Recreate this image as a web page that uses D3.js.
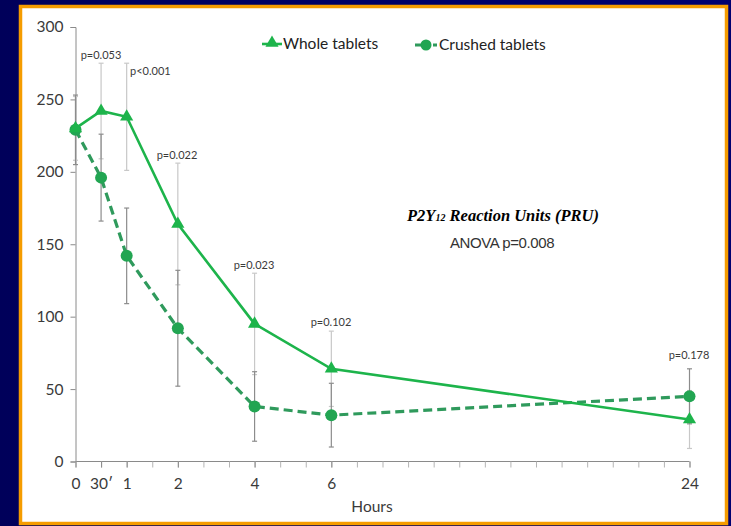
<!DOCTYPE html>
<html>
<head>
<meta charset="utf-8">
<script src="https://cdn.jsdelivr.net/npm/d3@7"></script>
<style>
  html, body { margin: 0; padding: 0; background: #00005c; }
  svg { display: block; }
</style>
</head>
<body>
<svg id="chart" width="731" height="526"></svg>
<script>
// Sampling times (position on the hour axis) and their labels
const timeLabels = ["0", "30\u2032", "1", "2", "4", "6", "24"];
const timePos = [0, 1, 2, 4, 7, 10, 24];

// PRU means and standard deviations
const wholeMean = [230, 242, 238, 164, 95, 64, 29];
const wholeSD = [22, 33, 37, 42, 35, 26, 20];
const crushedMean = [229, 196, 142, 92, 38, 32, 45];
const crushedSD = [24, 30, 33, 40, 24, 22, 19];

// p-values per time point
const pLabels = ["", "p=0.053", "p<0.001", "p=0.022", "p=0.023", "p=0.102", "p=0.178"];

const yTicks = [0, 50, 100, 150, 200, 250, 300];

const svg = d3.select("#chart");
const W = 731, H = 526;

// Background
const defs = svg.append("defs");
const bg = defs.append("linearGradient").attr("id", "bg").attr("x1", 0).attr("x2", 1).attr("y1", 0).attr("y2", 0);
bg.append("stop").attr("offset", "0%").attr("stop-color", "#00005a");
bg.append("stop").attr("offset", "100%").attr("stop-color", "#000070");
svg.append("rect").attr("width", W).attr("height", H).attr("fill", "url(#bg)");

// White panel with orange frame
svg.append("rect")
  .attr("x", 20.5).attr("y", 6.5).attr("width", 706).attr("height", 517)
  .attr("fill", "#ffffff").attr("stroke", "#f59c00").attr("stroke-width", 3.5);

const x = d3.scaleLinear().domain([0, 24]).range([75.5, 689.5]);
const y = d3.scaleLinear().domain([0, 300]).range([461.5, 27]);

const axisColor = "#8a8a8a";
const textColor = "#3a3a3a";
const fontSans = "Lato, 'Open Sans', sans-serif";

// Y axis
const yAxis = svg.append("g").attr("transform", `translate(${x(0)},0)`)
  .call(d3.axisLeft(y).tickValues(yTicks).tickSize(5).tickPadding(7));
yAxis.select(".domain").attr("stroke", axisColor);
yAxis.selectAll(".tick line").attr("stroke", axisColor);
yAxis.selectAll(".tick text").attr("fill", textColor)
  .style("font-family", fontSans).style("font-size", "15.5px");

// X axis: minor ticks each unit, labelled ticks at sampling times
const xAxis = svg.append("g").attr("transform", `translate(0,${y(0)})`)
  .call(d3.axisBottom(x).tickValues(d3.range(0, 25)).tickSize(6).tickFormat(""));
xAxis.select(".domain").attr("stroke", axisColor).attr("d", `M${x(0)},0H${x(24)}`);
xAxis.selectAll(".tick line").attr("stroke", "#b5b5b5");

const xLab = svg.append("g").attr("transform", `translate(0,${y(0)})`)
  .call(d3.axisBottom(x).tickValues(timePos).tickSize(6).tickPadding(10)
    .tickFormat((d, i) => timeLabels[i]));
xLab.select(".domain").remove();
xLab.selectAll(".tick line").attr("stroke", axisColor);
xLab.selectAll(".tick text").attr("fill", textColor)
  .style("font-family", fontSans).style("font-size", "15.5px");

svg.append("text").attr("x", 372).attr("y", 512).attr("text-anchor", "middle")
  .attr("fill", textColor).style("font-family", fontSans).style("font-size", "15.5px")
  .text("Hours");

// Error bars
function errorBars(mean, sd, color) {
  const g = svg.append("g");
  timePos.forEach((t, i) => {
    const lo = y(mean[i] - sd[i]), hi = y(mean[i] + sd[i]), cx = x(t);
    g.append("line").attr("x1", cx).attr("x2", cx).attr("y1", lo).attr("y2", hi)
      .attr("stroke", color).attr("stroke-width", 1.2);
    [lo, hi].forEach(v => g.append("line").attr("x1", cx - 2.5).attr("x2", cx + 2.5)
      .attr("y1", v).attr("y2", v).attr("stroke", color).attr("stroke-width", 1.2));
  });
}
errorBars(wholeMean, wholeSD, "#c8c8c8");
errorBars(crushedMean, crushedSD, "#8c8c8c");

const line = d3.line().x((d, i) => x(timePos[i])).y(d => y(d));

const wholeColor = "#1db44b";
const crushedColor = "#2f9a5c";

// Crushed tablets series (dashed, circles)
svg.append("path").datum(crushedMean).attr("d", line)
  .attr("fill", "none").attr("stroke", crushedColor).attr("stroke-width", 3.2)
  .attr("stroke-dasharray", "9,5");
svg.append("g").selectAll("circle").data(crushedMean).join("circle")
  .attr("cx", (d, i) => x(timePos[i])).attr("cy", d => y(d)).attr("r", 6)
  .attr("fill", "#22a552");

// Whole tablets series (solid, triangles)
svg.append("path").datum(wholeMean).attr("d", line)
  .attr("fill", "none").attr("stroke", wholeColor).attr("stroke-width", 2.6);
const tri = d3.symbol().type(d3.symbolTriangle).size(75);
svg.append("g").selectAll("path").data(wholeMean).join("path")
  .attr("d", tri)
  .attr("transform", (d, i) => `translate(${x(timePos[i])},${y(d)})`)
  .attr("fill", wholeColor);

// p-value annotations above each time point
const pPos = [null, [101, 59], [130, 75, "start"], [177, 159], [254, 269], [331, 326], [689, 359]];
svg.append("g").selectAll("text").data(pLabels.map((t, i) => ({ t, p: pPos[i] })).filter(d => d.t))
  .join("text")
  .attr("x", d => d.p[0]).attr("y", d => d.p[1])
  .attr("text-anchor", d => d.p[2] || "middle")
  .attr("fill", textColor).style("font-family", fontSans).style("font-size", "11px")
  .text(d => d.t);

// Legend
const leg = svg.append("g").style("font-family", fontSans).style("font-size", "15.5px").attr("fill", "#222");
leg.append("line").attr("x1", 262).attr("x2", 282).attr("y1", 44).attr("y2", 44)
  .attr("stroke", wholeColor).attr("stroke-width", 2.6);
leg.append("path").attr("d", tri).attr("transform", "translate(272,43)").attr("fill", wholeColor);
leg.append("text").attr("x", 283).attr("y", 49).text("Whole tablets");

leg.append("line").attr("x1", 415).attr("x2", 437).attr("y1", 45).attr("y2", 45)
  .attr("stroke", crushedColor).attr("stroke-width", 3.2).attr("stroke-dasharray", "6,3");
leg.append("circle").attr("cx", 426).attr("cy", 45).attr("r", 5.5).attr("fill", "#22a552");
leg.append("text").attr("x", 439).attr("y", 50).text("Crushed tablets");

// Title block
const title = svg.append("text").attr("x", 503).attr("y", 221).attr("text-anchor", "middle")
  .attr("fill", "#000").style("font-family", "'Liberation Serif', 'Times New Roman', serif")
  .style("font-size", "16.5px").style("font-weight", "bold").style("font-style", "italic");
title.append("tspan").text("P2Y");
title.append("tspan").style("font-size", "10px").text("12");
title.append("tspan").text(" Reaction Units (PRU)");

svg.append("text").attr("x", 502).attr("y", 248).attr("text-anchor", "middle")
  .attr("fill", "#333").style("font-family", "'Liberation Sans', Arial, sans-serif")
  .style("font-size", "15px").style("letter-spacing", "-0.4px").text("ANOVA p=0.008");
</script>
</body>
</html>
